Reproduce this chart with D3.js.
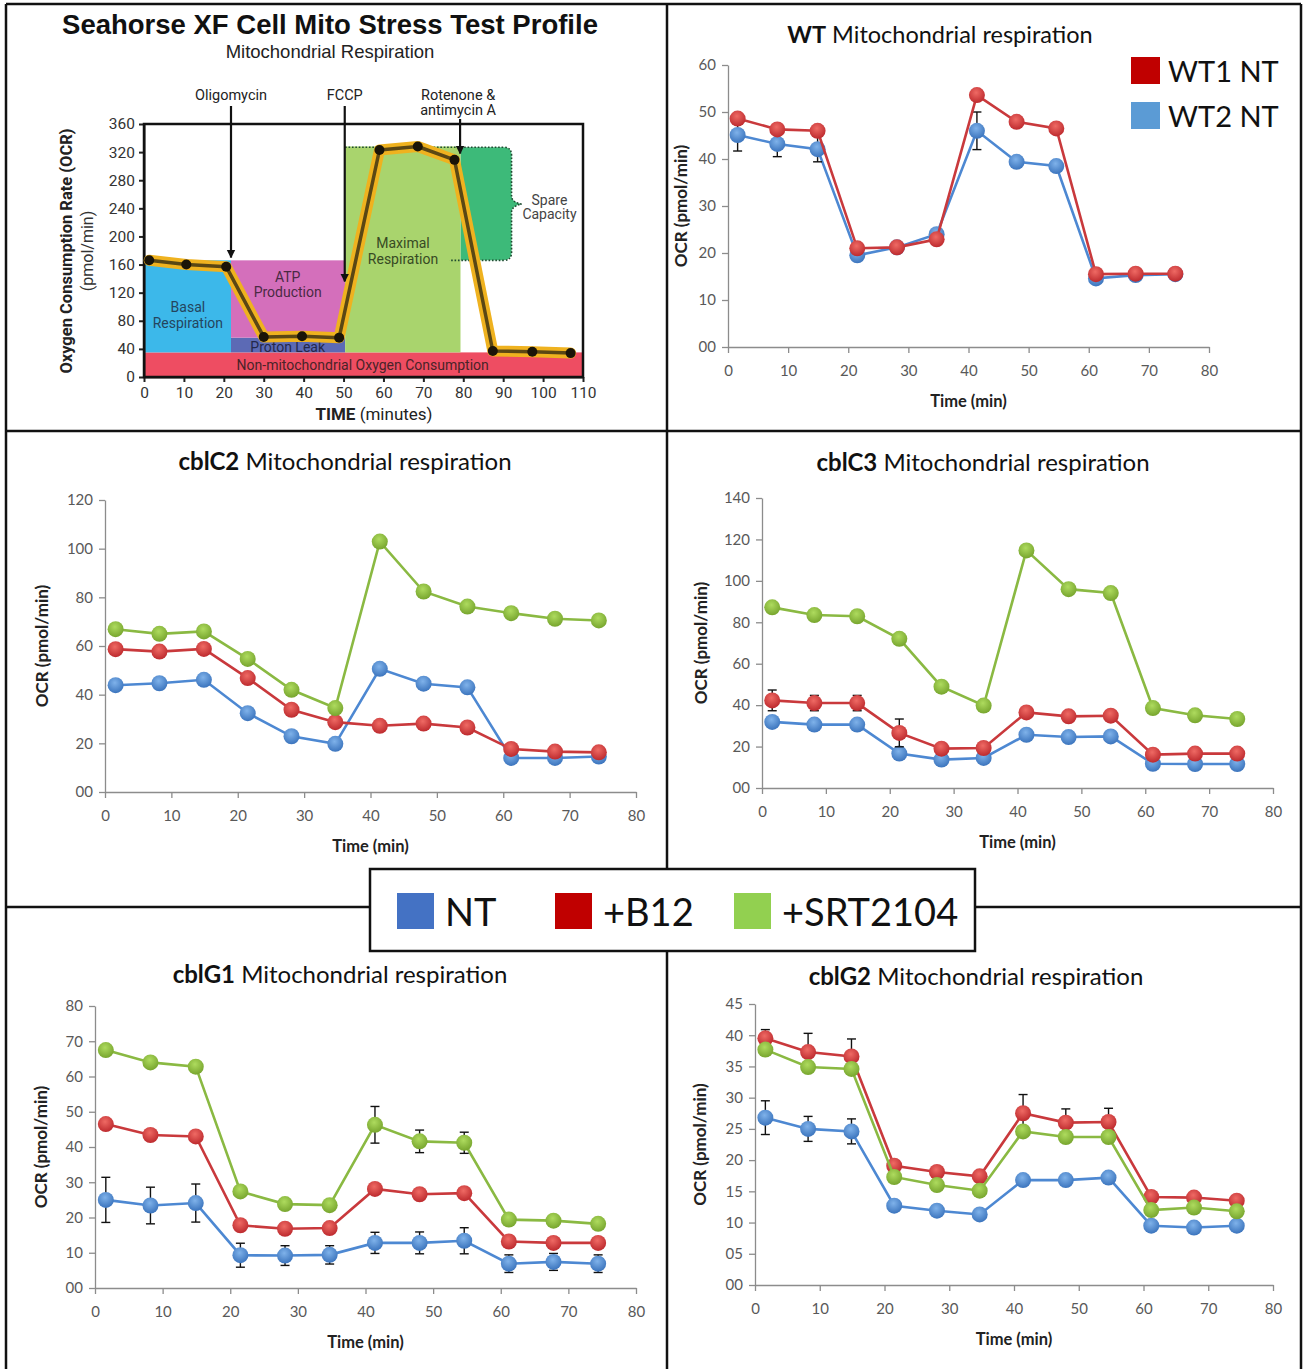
<!DOCTYPE html>
<html>
<head>
<meta charset="utf-8">
<script src="https://cdn.jsdelivr.net/npm/d3@7"></script>
<style>
  body { margin: 0; background: #fff; }
  text { font-family: Lato, "Open Sans", sans-serif; }
  .xl .tick text { fill: #595959; font-size: 15px; font-family: Lato, sans-serif; }
  .xl .tick line, .xl .domain { stroke: #8c8c8c; stroke-width: 1.3; }
  .sh text { font-family: Roboto, "DejaVu Sans", sans-serif; }
  .sh .tick text { fill: #333; font-size: 15.5px; }
  .sh .tick line, .sh .domain { stroke: #222; stroke-width: 2; }
</style>
</head>
<body>
<div id="fig"></div>
<script>
// ---- data ----
// measurement times (min), same for all Excel panels
const times = [1.6, 8.2, 14.9, 21.5, 28.1, 34.7, 41.4, 48.0, 54.6, 61.2, 67.8, 74.4];

const wt1 = [48.6, 46.3, 46.0, 21.0, 21.2, 22.9, 53.6, 47.9, 46.5, 15.5, 15.6, 15.6];
const wt2 = [45.1, 43.2, 42.1, 19.5, 21.2, 24.0, 46.0, 39.4, 38.5, 14.6, 15.3, 15.5];
const wt2Err = [3.4, 2.7, 2.7, 0, 0, 0, 4.0, 0, 0, 0, 0, 0];

const c2NT  = [43.9, 44.7, 46.1, 32.4, 22.9, 19.8, 50.6, 44.5, 43.0, 14.0, 14.0, 14.6];
const c2B12 = [58.7, 57.7, 58.8, 46.8, 33.8, 28.7, 27.2, 28.1, 26.5, 17.7, 16.6, 16.3];
const c2SRT = [66.9, 65.0, 66.0, 54.7, 42.0, 34.5, 102.9, 82.4, 76.2, 73.5, 71.2, 70.5];

const c3NT  = [31.9, 30.6, 30.6, 16.6, 13.7, 14.5, 25.7, 24.6, 24.9, 11.7, 11.6, 11.6];
const c3B12 = [42.3, 41.0, 41.0, 26.6, 19.0, 19.3, 36.5, 34.6, 34.9, 16.1, 16.6, 16.6];
const c3B12Err = [5.0, 3.7, 3.7, 6.7, 0, 0, 0, 0, 0, 0, 0, 0];
const c3SRT = [87.2, 83.5, 82.9, 72.0, 48.9, 39.8, 114.7, 96.0, 94.1, 38.6, 35.1, 33.3];

const g1NT  = [25.0, 23.4, 24.1, 9.3, 9.2, 9.4, 12.8, 12.8, 13.4, 6.9, 7.4, 6.9];
const g1NTErr = [6.4, 5.2, 5.4, 3.4, 2.8, 2.6, 3.0, 3.1, 3.7, 2.5, 2.4, 2.5];
const g1B12 = [46.5, 43.4, 43.0, 17.8, 16.8, 17.0, 28.1, 26.6, 26.9, 13.2, 12.8, 12.8];
const g1SRT = [67.5, 64.0, 62.8, 27.4, 23.8, 23.5, 46.3, 41.6, 41.2, 19.4, 19.1, 18.2];
const g1SRTErr = [0, 0, 0, 0, 0, 0, 5.2, 3.2, 3.0, 0, 0, 0];

const g2NT  = [26.8, 25.0, 24.6, 12.7, 11.9, 11.3, 16.8, 16.8, 17.2, 9.5, 9.2, 9.5];
const g2NTErr = [2.7, 2.0, 2.0, 0, 0, 0, 0, 0, 0, 0, 0, 0];
const g2B12 = [39.5, 37.3, 36.6, 19.1, 18.1, 17.4, 27.5, 26.0, 26.1, 14.1, 14.0, 13.5];
const g2B12Err = [1.4, 3.0, 2.8, 0, 0, 0, 3.0, 2.2, 2.2, 0, 0, 0];
const g2SRT = [37.7, 34.9, 34.6, 17.3, 16.0, 15.1, 24.6, 23.7, 23.7, 12.0, 12.4, 11.8];

// schematic profile
const profTime = [1.3, 10.6, 20.6, 30.0, 39.6, 48.9, 59.0, 68.6, 77.8, 87.4, 97.3, 106.9];
const profOcr  = [166, 160, 157, 57, 58, 56, 323, 328, 309, 37, 36, 34];
const profXTicks = d3.range(0, 111, 10);
const profYTicks = d3.range(0, 361, 40);

const regions = [
  {lines: ["Non-mitochondrial Oxygen Consumption"], t0: 0, t1: 110, o0: 0, o1: 35, color: "#ee4d62", lt: 54.8, lo: 16.6, ink: "#4a2328"},
  {lines: ["Basal", "Respiration"], t0: 0, t1: 21.8, o0: 35, o1: 166, color: "#3cb8ea", lt: 11, lo: 99, ink: "#24455e"},
  {lines: ["Proton Leak"], t0: 21.8, t1: 50.4, o0: 35, o1: 56, color: "#5c6ab5", lt: 36, lo: 42, ink: "#24284a"},
  {lines: ["ATP", "Production"], t0: 21.8, t1: 50.4, o0: 56, o1: 166, color: "#d46fbb", lt: 36, lo: 143, ink: "#4a2a44"},
  {lines: ["Maximal", "Respiration"], t0: 50.4, t1: 79.3, o0: 35, o1: 328, color: "#a9d46d", lt: 64.9, lo: 190, ink: "#384a24"}
];
const injections = [
  {lines: ["Oligomycin"], t: 21.8, tip: 170},
  {lines: ["FCCP"], t: 50.3, tip: 136},
  {lines: ["Rotenone &", "antimycin A"], t: 79.2, tip: 318}
];

const legendNames = ["NT", "+B12", "+SRT2104"];
const legendColors = ["#4472c4", "#c00000", "#92d050"];
const wtNames = ["WT1 NT", "WT2 NT"];
const wtColors = ["#c00000", "#5b9bd5"];

// ---- styles ----
const look = {
  NT:  {line: "#4d88d2", light: "#7fb2ea", dark: "#3b74bd"},
  B12: {line: "#c9393c", light: "#ef6a64", dark: "#bd2a2e"},
  SRT: {line: "#8ab942", light: "#aedb5e", dark: "#77a52e"}
};

const W = 1310, H = 1369;
const svg = d3.select("#fig").append("svg").attr("width", W).attr("height", H);
const defs = svg.append("defs");

Object.entries(look).forEach(([k, c]) => {
  const gr = defs.append("radialGradient").attr("id", "dot" + k)
    .attr("cx", "45%").attr("cy", "35%").attr("r", "65%");
  gr.append("stop").attr("offset", "0%").attr("stop-color", c.light);
  gr.append("stop").attr("offset", "100%").attr("stop-color", c.dark);
});

defs.append("marker").attr("id", "arrow").attr("viewBox", "0 0 10 10")
  .attr("refX", 9).attr("refY", 5).attr("markerWidth", 4).attr("markerHeight", 5)
  .attr("orient", "auto").attr("markerUnits", "strokeWidth")
  .append("path").attr("d", "M0,0L10,5L0,10z").attr("fill", "#111");

// ---- frame ----
const frame = [[6, 4, 1301, 4], [6, 4, 6, H], [1301, 4, 1301, H], [667, 4, 667, 869], [667, 951, 667, H],
               [6, 431, 1301, 431], [6, 907, 370, 907], [975, 907, 1301, 907]];
svg.append("g").selectAll("line").data(frame).enter().append("line")
  .attr("x1", d => d[0]).attr("y1", d => d[1]).attr("x2", d => d[2]).attr("y2", d => d[3])
  .attr("stroke", "#111").attr("stroke-width", 2.5);

// ---- schematic (top left) ----
(function schematic() {
  const g = svg.append("g").attr("class", "sh");
  const x = d3.scaleLinear().domain([0, 110]).range([144, 583]);
  const y = d3.scaleLinear().domain([0, 360]).range([377, 124]);

  g.append("text").attr("x", 330).attr("y", 34).attr("text-anchor", "middle")
    .style("font-family", "'Liberation Sans', Arial, sans-serif").style("font-weight", "bold")
    .style("font-size", "27.5px").attr("fill", "#111").text("Seahorse XF Cell Mito Stress Test Profile");
  g.append("text").attr("x", 330).attr("y", 58).attr("text-anchor", "middle")
    .style("font-family", "'Liberation Sans', Arial, sans-serif")
    .style("font-size", "18.5px").attr("fill", "#222").text("Mitochondrial Respiration");

  // spare capacity shape with brace edge
  const sx0 = x(79.3), sx1 = x(92.1), tipX = x(94.6), sTop = y(327), sBot = y(166), sMid = y(246), r = 8;
  const spare = `M${sx0},${sTop} L${sx1 - r},${sTop} Q${sx1},${sTop} ${sx1},${sTop + r} L${sx1},${sMid - 8} Q${sx1},${sMid - 2} ${tipX},${sMid}` +
    ` Q${sx1},${sMid + 2} ${sx1},${sMid + 8} L${sx1},${sBot - r} Q${sx1},${sBot} ${sx1 - r},${sBot} L${sx0},${sBot} Z`;
  g.append("path").attr("d", spare).attr("fill", "#3dba79");

  g.selectAll("rect.region").data(regions).enter().append("rect").attr("class", "region")
    .attr("x", d => x(d.t0)).attr("width", d => x(d.t1) - x(d.t0))
    .attr("y", d => y(d.o1)).attr("height", d => y(d.o0) - y(d.o1))
    .attr("fill", d => d.color);

  // dotted outline of spare capacity
  const dotted = `M${x(50.4)},${sTop} L${sx1 - r},${sTop} Q${sx1},${sTop} ${sx1},${sTop + r} L${sx1},${sMid - 8} Q${sx1},${sMid - 2} ${tipX},${sMid}` +
    ` Q${sx1},${sMid + 2} ${sx1},${sMid + 8} L${sx1},${sBot - r} Q${sx1},${sBot} ${sx1 - r},${sBot} L${x(76.5)},${sBot}`;
  g.append("path").attr("d", dotted).attr("fill", "none").attr("stroke", "#1f4a30")
    .attr("stroke-width", 1.6).attr("stroke-dasharray", "1.6,1.8");

  // region labels
  regions.forEach(d => {
    const t = g.append("text").attr("text-anchor", "middle").attr("fill", d.ink).style("font-size", "14px");
    d.lines.forEach((l, i) => t.append("tspan").attr("x", x(d.lt)).attr("y", y(d.lo) + 5 + i * 15.5).text(l));
  });
  const sp = g.append("text").attr("text-anchor", "middle").attr("fill", "#444").style("font-size", "14px");
  ["Spare", "Capacity"].forEach((l, i) => sp.append("tspan").attr("x", x(101.6)).attr("y", y(251) + 4 + i * 14).text(l));

  // axes
  g.append("g").attr("transform", "translate(144,0)")
    .call(d3.axisLeft(y).tickValues(profYTicks).tickSize(5).tickSizeOuter(0).tickPadding(4));
  g.append("g").attr("transform", "translate(0,377)")
    .call(d3.axisBottom(x).tickValues(profXTicks).tickSize(5).tickSizeOuter(0).tickPadding(5));
  g.append("rect").attr("x", 144).attr("y", 124).attr("width", 439).attr("height", 253)
    .attr("fill", "none").attr("stroke", "#111").attr("stroke-width", 2.5);

  // profile curve
  const pts = profTime.map((t, i) => [x(t), y(profOcr[i])]);
  const ln = d3.line();
  g.append("path").attr("d", ln(pts)).attr("fill", "none").attr("stroke", "#efb21f")
    .attr("stroke-width", 11).attr("stroke-linejoin", "round").attr("stroke-linecap", "round");
  g.append("path").attr("d", ln(pts)).attr("fill", "none").attr("stroke", "#5a4714")
    .attr("stroke-width", 3.5).attr("stroke-linejoin", "round");
  g.selectAll("circle.p").data(pts).enter().append("circle").attr("class", "p")
    .attr("cx", d => d[0]).attr("cy", d => d[1]).attr("r", 5).attr("fill", "#1a1408");

  // injection arrows
  injections.forEach(d => {
    const two = d.lines.length > 1;
    g.append("line").attr("x1", x(d.t)).attr("x2", x(d.t)).attr("y1", two ? 119 : 106)
      .attr("y2", y(d.tip)).attr("stroke", "#111").attr("stroke-width", 2.2).attr("marker-end", "url(#arrow)");
    const t = g.append("text").attr("text-anchor", "middle").attr("fill", "#222").style("font-size", "14.5px");
    d.lines.forEach((l, i) => t.append("tspan").attr("x", x(d.t) + (two ? -2 : 0)).attr("y", 99.5 + i * 15.5).text(l));
  });

  // axis titles
  g.append("text").attr("transform", "translate(72,251) rotate(-90)").attr("text-anchor", "middle")
    .style("font-weight", "bold").style("font-size", "16.5px").attr("fill", "#222").text("Oxygen Consumption Rate (OCR)");
  g.append("text").attr("transform", "translate(93,251) rotate(-90)").attr("text-anchor", "middle")
    .style("font-size", "16px").attr("fill", "#333").text("(pmol/min)");
  const xt = g.append("text").attr("x", 374).attr("y", 420).attr("text-anchor", "middle")
    .style("font-size", "17px").attr("fill", "#222");
  xt.append("tspan").style("font-weight", "bold").text("TIME ");
  xt.append("tspan").text("(minutes)");
})();

// ---- Excel style OCR panels ----
function ocrPanel(p) {
  const g = svg.append("g").attr("class", "xl");
  const x = d3.scaleLinear().domain([0, 80]).range([p.left, p.right]);
  const y = d3.scaleLinear().domain([0, p.yMax]).range([p.bottom, p.top]);

  g.append("g").attr("transform", `translate(0,${p.bottom})`)
    .call(d3.axisBottom(x).tickValues(d3.range(0, 81, 10)).tickSize(6).tickSizeOuter(0).tickPadding(12));
  g.append("g").attr("transform", `translate(${p.left},0)`)
    .call(d3.axisLeft(y).tickValues(d3.range(0, p.yMax + 0.1, p.yStep)).tickSize(6).tickSizeOuter(0)
      .tickPadding(6).tickFormat(d3.format("02d")));

  const tt = g.append("text").attr("x", p.titleX).attr("y", p.titleY).attr("text-anchor", "middle")
    .style("font-size", (p.titleSize || 24) + "px").attr("fill", "#111");
  tt.append("tspan").style("font-weight", "bold").text(p.title[0]);
  tt.append("tspan").text(" " + p.title[1]);

  g.append("text").attr("transform", `translate(${p.yTitleX},${(p.top + p.bottom) / 2}) rotate(-90)`)
    .attr("text-anchor", "middle").style("font-weight", "bold").style("font-size", "17px")
    .attr("fill", "#222").text("OCR (pmol/min)");
  g.append("text").attr("x", (p.left + p.right) / 2).attr("y", p.bottom + 60).attr("text-anchor", "middle")
    .style("font-weight", "bold").style("font-size", "16.5px").attr("fill", "#222").text("Time (min)");

  const line = d3.line().x((d, i) => x(times[i])).y(d => y(d));
  p.series.forEach(s => {
    const c = look[s.kind];
    g.append("path").attr("d", line(s.values)).attr("fill", "none")
      .attr("stroke", c.line).attr("stroke-width", 2.6);
    if (s.err) {
      const eb = g.append("g").attr("stroke", "#111").attr("stroke-width", 1.4);
      s.values.forEach((v, i) => {
        const e = s.err[i];
        if (!e) return;
        const cx = x(times[i]);
        eb.append("line").attr("x1", cx).attr("x2", cx).attr("y1", y(v - e)).attr("y2", y(v + e));
        [v - e, v + e].forEach(w => eb.append("line").attr("x1", cx - 4.5).attr("x2", cx + 4.5)
          .attr("y1", y(w)).attr("y2", y(w)));
      });
    }
    g.selectAll(null).data(s.values).enter().append("circle")
      .attr("cx", (d, i) => x(times[i])).attr("cy", d => y(d)).attr("r", 8)
      .attr("fill", `url(#dot${s.kind})`);
  });
  return g;
}

ocrPanel({left: 728, right: 1209, top: 65, bottom: 347, yMax: 60, yStep: 10,
  title: ["WT", "Mitochondrial respiration"], titleX: 940, titleY: 43, titleSize: 23.5, yTitleX: 687,
  series: [{kind: "NT", values: wt2, err: wt2Err}, {kind: "B12", values: wt1}]});

ocrPanel({left: 105, right: 636, top: 500, bottom: 792, yMax: 120, yStep: 20,
  title: ["cblC2", "Mitochondrial respiration"], titleX: 345, titleY: 470, yTitleX: 48,
  series: [{kind: "NT", values: c2NT}, {kind: "B12", values: c2B12}, {kind: "SRT", values: c2SRT}]});

ocrPanel({left: 762, right: 1273, top: 498, bottom: 788, yMax: 140, yStep: 20,
  title: ["cblC3", "Mitochondrial respiration"], titleX: 983, titleY: 471, yTitleX: 707,
  series: [{kind: "NT", values: c3NT}, {kind: "B12", values: c3B12, err: c3B12Err}, {kind: "SRT", values: c3SRT}]});

ocrPanel({left: 95, right: 636, top: 1006, bottom: 1288, yMax: 80, yStep: 10,
  title: ["cblG1", "Mitochondrial respiration"], titleX: 340, titleY: 983, yTitleX: 47,
  series: [{kind: "NT", values: g1NT, err: g1NTErr}, {kind: "B12", values: g1B12}, {kind: "SRT", values: g1SRT, err: g1SRTErr}]});

ocrPanel({left: 755, right: 1273, top: 1004, bottom: 1285, yMax: 45, yStep: 5,
  title: ["cblG2", "Mitochondrial respiration"], titleX: 976, titleY: 985, yTitleX: 706,
  series: [{kind: "NT", values: g2NT, err: g2NTErr}, {kind: "B12", values: g2B12, err: g2B12Err}, {kind: "SRT", values: g2SRT}]});

// WT legend
wtNames.forEach((n, i) => {
  svg.append("rect").attr("x", 1131).attr("y", 57 + i * 45).attr("width", 29).attr("height", 27)
    .attr("fill", wtColors[i]);
  svg.append("text").attr("x", 1168).attr("y", 82 + i * 45).style("font-size", "29px")
    .attr("fill", "#111").text(n);
});

// shared legend
svg.append("rect").attr("x", 370).attr("y", 869).attr("width", 605).attr("height", 82)
  .attr("fill", "#fff").attr("stroke", "#111").attr("stroke-width", 2.5);
const legX = [397, 555, 734];
legendNames.forEach((n, i) => {
  svg.append("rect").attr("x", legX[i]).attr("y", 893).attr("width", 37).attr("height", 36)
    .attr("fill", legendColors[i]);
  svg.append("text").attr("x", legX[i] + 48).attr("y", 926).style("font-size", "38px")
    .attr("fill", "#111").text(n);
});
</script>
</body>
</html>
